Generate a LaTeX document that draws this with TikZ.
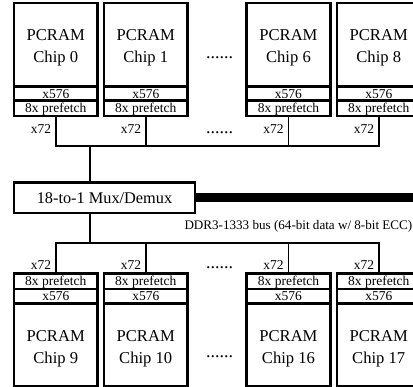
\documentclass[tikz,border=0pt]{standalone}
\usepackage{fontspec}
\setmainfont{Liberation Serif}
\begin{document}
\begin{tikzpicture}[x=1pt,y=-1pt,
  chipbody/.style={draw, line width=2.8pt, rectangle, inner sep=0pt, minimum width=83.5pt},
  chiptext/.style={inner sep=0pt, align=center, font=\fontsize{16.6}{22}\selectfont},
  rowbox/.style={draw, line width=2.8pt, rectangle, inner sep=0pt, minimum width=83.5pt,
     text height=9.5pt, text depth=0pt, font=\fontsize{13.5}{14}\selectfont},
  wire/.style={line width=1.8pt},
  lbl/.style={inner sep=0pt, anchor=east, font=\fontsize{13.5}{14}\selectfont},
  dotsrow/.style={inner sep=0pt, anchor=base, font=\fontsize{18}{18}\selectfont},
  muxbox/.style={draw, line width=2.8pt, rectangle, inner sep=0pt, minimum width=181pt,
     minimum height=30.5pt, font=\fontsize{16.3}{18}\selectfont},
  bus/.style={line width=9pt},
  buslbl/.style={inner sep=0pt, anchor=east, font=\fontsize{13.1}{14}\selectfont}
]
\useasboundingbox (0,0) rectangle (413,387);
\clip (0,0) rectangle (413,387);

% top chips
\foreach \n/\x in {0/14, 1/104, 6/246.7, 8/337} {
  \node[chipbody, minimum height=83.5pt] (t\n b) at (\x+41.75, 44.75) {};
  \node[chiptext] (t\n t) at (\x+41.75, 48.25) {PCRAM\\Chip \n};
  \node[rowbox, minimum height=14pt] (t\n x) at (\x+41.75, 93.5) {x576};
  \node[rowbox, minimum height=15.5pt] (t\n p) at (\x+41.75, 108.25) {8x prefetch};
  \node[lbl] (t\n l) at (\x+37.2, 129.5) {x72};
}
% bottom chips
\foreach \n/\x in {9/14, 10/104, 16/246.7, 17/337} {
  \node[rowbox, minimum height=15.7pt] (b\n p) at (\x+41.75, 281.15) {8x prefetch};
  \node[rowbox, minimum height=14.5pt] (b\n x) at (\x+41.75, 296.25) {x576};
  \node[chipbody, minimum height=82.5pt] (b\n b) at (\x+41.75, 344.75) {};
  \node[chiptext] (b\n t) at (\x+41.75, 348.5) {PCRAM\\Chip \n};
  \node[lbl] (b\n l) at (\x+37.2, 265) {x72};
}

% dots
\node[dotsrow] (d1) at (219.5, 58.5) {......};
\node[dotsrow] (d2) at (219.5, 134) {......};
\node[dotsrow] (d3) at (219.5, 268.5) {......};
\node[dotsrow] (d4) at (219.5, 358) {......};

% mux
\node[muxbox] (mux) at (104.5, 197.75) {18-to-1 Mux/Demux};
\coordinate (busend) at (425, 197.75);
\draw[bus] (mux.east) -- (busend);
\node[buslbl] (buslabel) at (412.5, 226) {DDR3-1333 bus (64-bit data w/ 8-bit ECC)};

% top wiring
\coordinate (tbus) at (90, 145.7);
\draw[wire] (t0p.south) |- (t8p.south |- tbus) -- (t8p.south);
\draw[wire] (t1p.south) -- (t1p.south |- tbus);
\draw[wire] (t6p.south) -- (t6p.south |- tbus);
\draw[wire] (tbus) -- (tbus |- mux.north);

% bottom wiring
\coordinate (bbus) at (90, 242.7);
\draw[wire] (b9p.north) |- (b17p.north |- bbus) -- (b17p.north);
\draw[wire] (b10p.north) -- (b10p.north |- bbus);
\draw[wire] (b16p.north) -- (b16p.north |- bbus);
\draw[wire] (bbus |- mux.south) -- (bbus);
\end{tikzpicture}
\end{document}
